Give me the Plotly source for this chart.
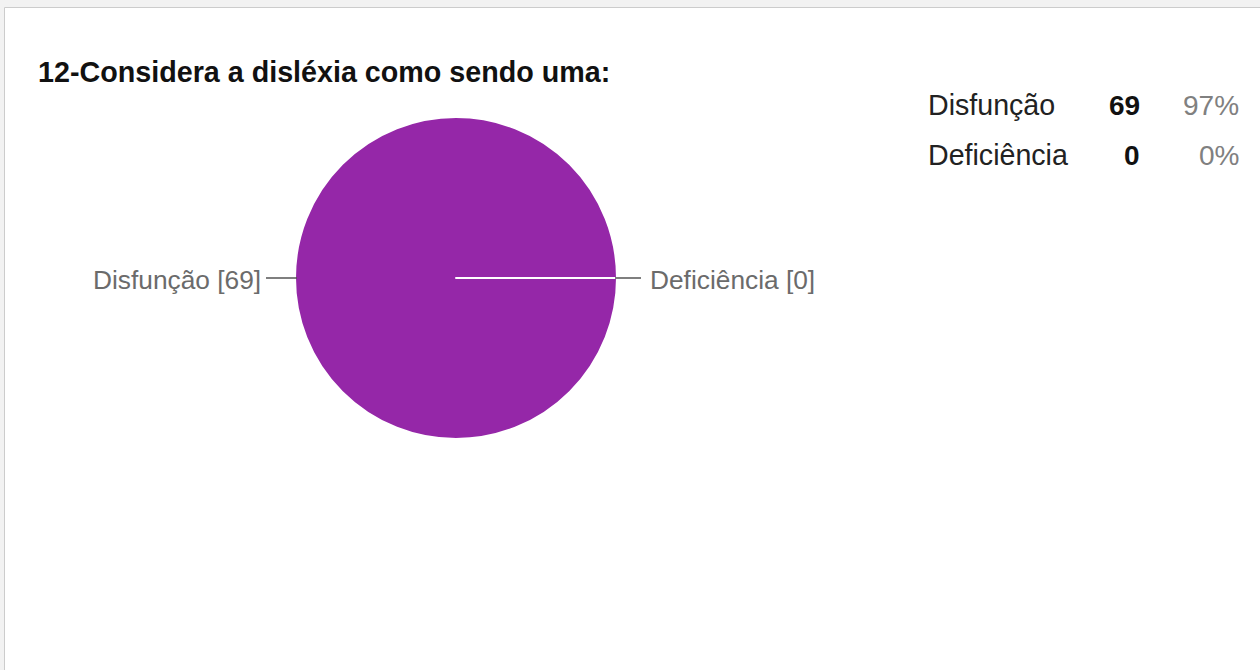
import plotly.graph_objects as go

# ---- data ----
categories = ["Disfunção", "Deficiência"]
counts = [69, 0]
percent_labels = ["97%", "0%"]
title_text = "12-Considera a disléxia como sendo uma:"

W, H = 1260, 670
PURPLE = "#9527A8"

def px(x):
    return x / W

def py(y):
    return 1 - y / H

# pie geometry (pixels)
cx, cy, r = 456, 278, 161

fig = go.Figure()
fig.add_trace(go.Pie(
    labels=categories,
    values=counts,
    sort=False,
    direction="clockwise",
    rotation=90,
    marker=dict(colors=[PURPLE, PURPLE], line=dict(color="white", width=2)),
    textinfo="none",
    hoverinfo="skip",
    showlegend=False,
    domain=dict(x=[px(cx - r), px(cx + r)], y=[py(cy + r), py(cy - r)]),
))

annotations = []
# title
annotations.append(dict(
    text="<b>" + title_text + "</b>", x=px(36), y=py(72), xref="paper", yref="paper",
    xanchor="left", yanchor="middle", showarrow=False,
    font=dict(family="Liberation Sans, Arial", size=28.7, color="#111111"),
))
# pie labels
lab_font = dict(family="Liberation Sans, Arial", size=26.3, color="#6b6b6b")
annotations.append(dict(
    text=f"{categories[0]} [{counts[0]}]", x=px(263), y=py(280), xref="paper", yref="paper",
    xanchor="right", yanchor="middle", showarrow=False, font=lab_font,
))
annotations.append(dict(
    text=f"{categories[1]} [{counts[1]}]", x=px(648), y=py(280), xref="paper", yref="paper",
    xanchor="left", yanchor="middle", showarrow=False, font=lab_font,
))
# table at top right
row_y = [105, 155]
for i, cat in enumerate(categories):
    annotations.append(dict(
        text=cat, x=px(926), y=py(row_y[i]), xref="paper", yref="paper",
        xanchor="left", yanchor="middle", showarrow=False,
        font=dict(family="Liberation Sans, Arial", size=28.6, color="#222222"),
    ))
    annotations.append(dict(
        text=f"<b>{counts[i]}</b>", x=px(1142), y=py(row_y[i]), xref="paper", yref="paper",
        xanchor="right", yanchor="middle", showarrow=False,
        font=dict(family="Liberation Sans, Arial", size=28, color="#111111"),
    ))
    annotations.append(dict(
        text=percent_labels[i], x=px(1241), y=py(row_y[i]), xref="paper", yref="paper",
        xanchor="right", yanchor="middle", showarrow=False,
        font=dict(family="Liberation Sans, Arial", size=28, color="#808080"),
    ))

shapes = [
    # page background frame
    dict(type="rect", xref="paper", yref="paper", x0=0, x1=1, y0=0, y1=1,
         fillcolor="#f2f2f2", line=dict(width=0), layer="below"),
    dict(type="rect", xref="paper", yref="paper", x0=px(4.5), x1=1.01, y0=-0.01, y1=py(7.5),
         fillcolor="white", line=dict(color="#cccccc", width=1), layer="below"),
    # leader lines
    dict(type="line", xref="paper", yref="paper", x0=px(266), x1=px(cx - r + 2), y0=py(cy), y1=py(cy),
         line=dict(color="#555555", width=1.5)),
    dict(type="line", xref="paper", yref="paper", x0=px(cx + r - 2), x1=px(641), y0=py(cy), y1=py(cy),
         line=dict(color="#555555", width=1.5)),
]

fig.update_layout(
    width=W, height=H,
    margin=dict(l=0, r=0, t=0, b=0),
    paper_bgcolor="white",
    annotations=annotations,
    shapes=shapes,
)

fig.write_html("out.html")
